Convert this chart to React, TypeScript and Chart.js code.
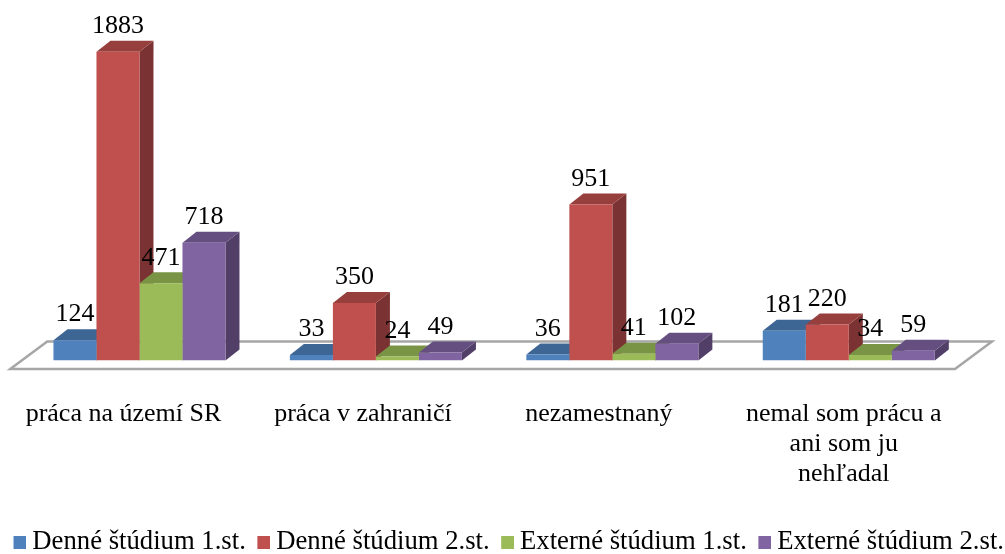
import React, { useEffect, useRef } from "react";
import { Chart, registerables } from "chart.js";

Chart.register(...registerables);

const categories: (string | string[])[] = [
  "práca na území SR",
  "práca v zahraničí",
  "nezamestnaný",
  ["nemal som prácu a", "ani som ju", "nehľadal"],
];
const denne1 = [124, 33, 36, 181];
const denne2 = [1883, 350, 951, 220];
const externe1 = [471, 24, 41, 34];
const externe2 = [718, 49, 102, 59];
const seriesNames = [
  "Denné štúdium 1.st.",
  "Denné štúdium 2.st.",
  "Externé štúdium 1.st.",
  "Externé štúdium 2.st.",
];
const frontColors = ["#4F81BD", "#C0504D", "#9BBB59", "#8064A2"];
const topColors = ["#3E6695", "#973F3D", "#7A9446", "#654F80"];
const sideColors = ["#335478", "#7A3332", "#627638", "#523F68"];
const tickShift = [-16, -13, -13.5, -5];

const SERIF = "'Liberation Serif', 'Times New Roman', serif";
const DX = 14;
const DY = -11;

const depthPlugin = {
  id: "depth3d",
  beforeDatasetsDraw(chart: any) {
    const { ctx, chartArea: a } = chart;
    ctx.save();
    ctx.beginPath();
    ctx.moveTo(a.left - 11, a.bottom + 8.5);
    ctx.lineTo(a.left + 26, a.bottom - 19);
    ctx.lineTo(a.right + 25, a.bottom - 19);
    ctx.lineTo(a.right - 12, a.bottom + 8.5);
    ctx.closePath();
    ctx.fillStyle = "#ffffff";
    ctx.fill();
    ctx.strokeStyle = "#a6a6a6";
    ctx.lineWidth = 2.5;
    ctx.stroke();
    const poly = (pts: number[][], color: string) => {
      ctx.beginPath();
      pts.forEach((p, i) => (i ? ctx.lineTo(p[0], p[1]) : ctx.moveTo(p[0], p[1])));
      ctx.closePath();
      ctx.fillStyle = color;
      ctx.fill();
    };
    const n = chart.data.labels.length;
    for (let c = 0; c < n; c++) {
      chart.data.datasets.forEach((_: any, d: number) => {
        const el = chart.getDatasetMeta(d).data[c];
        const half = el.width / 2;
        const l = el.x - half;
        const r = el.x + half;
        poly([[r, el.y], [r + DX, el.y + DY], [r + DX, el.base + DY], [r, el.base]], sideColors[d]);
        poly([[l, el.y], [l + DX, el.y + DY], [r + DX, el.y + DY], [r, el.y]], topColors[d]);
      });
    }
    ctx.restore();
  },
  afterDatasetsDraw(chart: any) {
    const { ctx } = chart;
    ctx.save();
    ctx.font = `26px ${SERIF}`;
    ctx.fillStyle = "#000000";
    ctx.textAlign = "center";
    ctx.textBaseline = "middle";
    chart.data.datasets.forEach((ds: any, d: number) => {
      chart.getDatasetMeta(d).data.forEach((el: any, i: number) => {
        ctx.fillText(String(ds.data[i]), el.x, el.y - 25.5);
      });
    });
    ctx.restore();
  },
  beforeDraw(chart: any) {
    const items = chart.scales.x.getLabelItems();
    items.forEach((it: any, i: number) => {
      if (it.options.__moved) return;
      it.options.translation[0] += tickShift[i] ?? 0;
      it.options.__moved = true;
    });
  },
};

function swatch(color: string) {
  const c = document.createElement("canvas");
  c.width = 17;
  c.height = 13;
  const g = c.getContext("2d")!;
  g.fillStyle = color;
  g.fillRect(4, 0, 13, 13);
  return c;
}

const spacer = (width: number) => ({
  display: true,
  grid: { display: false },
  border: { display: false },
  ticks: { display: false },
  min: 0,
  max: 2000,
  afterFit(s: any) {
    s.width = width;
  },
});

export default function App() {
  const ref = useRef<HTMLCanvasElement>(null);
  useEffect(() => {
    const sets = [denne1, denne2, externe1, externe2];
    const chart = new Chart(ref.current!, {
      type: "bar",
      data: {
        labels: categories as any,
        datasets: sets.map((data, i) => ({
          label: seriesNames[i],
          data,
          backgroundColor: frontColors[i],
          borderWidth: 0,
          categoryPercentage: 0.7275,
          barPercentage: 1,
          yAxisID: "y",
        })),
      },
      options: {
        responsive: false,
        animation: false,
        layout: { padding: { left: -19, right: -35, top: 32.5, bottom: -11.5 } },
        scales: {
          x: {
            grid: { display: false },
            border: { display: false },
            ticks: {
              color: "#000000",
              font: { family: SERIF, size: 26, lineHeight: 30 / 26 },
              padding: 30.5,
              maxRotation: 0,
              minRotation: 0,
              autoSkip: false,
            },
            afterFit(s: any) {
              s.height = 153.3;
            },
          },
          y: { ...spacer(40.25), position: "left" },
          y2: { ...spacer(73), position: "right" },
        } as any,
        plugins: {
          tooltip: { enabled: false },
          legend: {
            position: "bottom",
            labels: {
              usePointStyle: true,
              pointStyleWidth: 2,
              boxHeight: 13,
              padding: 15,
              color: "#000000",
              font: { family: SERIF, size: 26.7 },
              generateLabels(c: any) {
                return Chart.defaults.plugins.legend.labels
                  .generateLabels(c)
                  .map((it: any, i: number) => ({ ...it, pointStyle: swatch(frontColors[i]) }));
              },
            },
          },
        },
      },
      plugins: [depthPlugin],
    } as any);
    return () => chart.destroy();
  }, []);
  return (
    <div style={{ position: "absolute", left: 0, top: 0, width: 1005, height: 554, overflow: "hidden", background: "#fff" }}>
      <canvas ref={ref} width={1005} height={554} style={{ display: "block", filter: "blur(0.4px)" }} />
    </div>
  );
}
